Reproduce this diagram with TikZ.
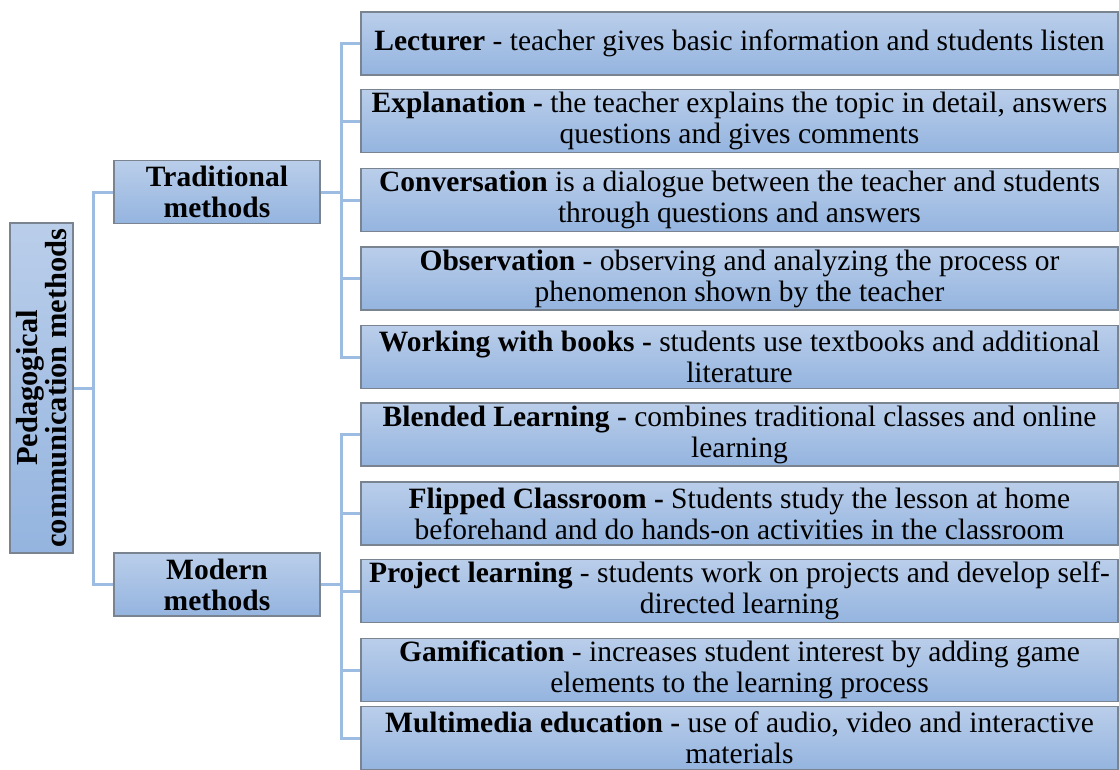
\documentclass[tikz,border=0pt]{standalone}
\usepackage{fontspec}
\setmainfont{Liberation Serif}
\definecolor{boxtop}{HTML}{BACEEA}
\definecolor{boxbot}{HTML}{94B4DF}
\definecolor{boxline}{HTML}{7A8490}
\definecolor{connline}{HTML}{9DBCE2}
\tikzset{
  box/.style={draw=boxline, line width=1.2pt, top color=boxtop, bottom color=boxbot,
    inner sep=0pt, align=center, font=\fontsize{29.5}{31}\selectfont},
  leaf/.style={box, minimum width=757pt, minimum height=63pt},
  mid/.style={box, minimum width=206pt, minimum height=63pt, font=\fontsize{29.5}{31}\selectfont\bfseries},
  conn/.style={draw=connline, line width=3pt},
}
\begin{document}
\begin{tikzpicture}[x=1pt,y=-1pt]
\useasboundingbox (0,0) rectangle (1119,769);
% root
\node[box, minimum width=63pt, minimum height=330pt] (root) at (41.5,388) {};
\node[rotate=90, align=center, inner sep=0pt, font=\fontsize{30.5}{27}\selectfont\bfseries] (roottxt) at (root.center) {Pedagogical\\communication methods};
% middle
\node[mid] (trad) at (217,192) {Traditional\\methods};
\node[mid] (mod) at (217,584.5) {Modern\\methods};
% leaves
\node[leaf] (t1) at (739.5,43.5) {\textbf{Lecturer} - teacher gives basic information and students listen};
\node[leaf] (t2) at (739.5,121) {\textbf{Explanation -} the teacher explains the topic in detail, answers\\questions and gives comments};
\node[leaf] (t3) at (739.5,200) {\textbf{Conversation} is a dialogue between the teacher and students\\through questions and answers};
\node[leaf] (t4) at (739.5,278.5) {\textbf{Observation} - observing and analyzing the process or\\phenomenon shown by the teacher};
\node[leaf] (t5) at (739.5,357) {\textbf{Working with books -} students use textbooks and additional\\literature};
\node[leaf] (m1) at (739.5,434.5) {\textbf{Blended Learning -} combines traditional classes and online\\learning};
\node[leaf] (m2) at (739.5,513.5) {\textbf{Flipped Classroom -} Students study the lesson at home\\beforehand and do hands-on activities in the classroom};
\node[leaf] (m3) at (739.5,591) {\textbf{Project learning} - students work on projects and develop self-\\directed learning};
\node[leaf] (m4) at (739.5,670) {\textbf{Gamification} - increases student interest by adding game\\elements to the learning process};
\node[leaf] (m5) at (739.5,738) {\textbf{Multimedia education -} use of audio, video and interactive\\materials};
% junctions
\coordinate (j0) at (93,388);
\coordinate (jt) at (341,192);
\coordinate (jm) at (341,584.5);
% connectors
\draw[conn] (root.east) -- (j0);
\draw[conn] (trad.west) -| (j0);
\draw[conn] (mod.west) -| (j0);
\draw[conn] (trad.east) -- (jt);
\draw[conn] (mod.east) -- (jm);
\foreach \n in {t1,t2,t3,t4,t5} { \draw[conn] (\n.west) -| (jt); }
\foreach \n in {m1,m2,m3,m4,m5} { \draw[conn] (\n.west) -| (jm); }
\end{tikzpicture}
\end{document}
